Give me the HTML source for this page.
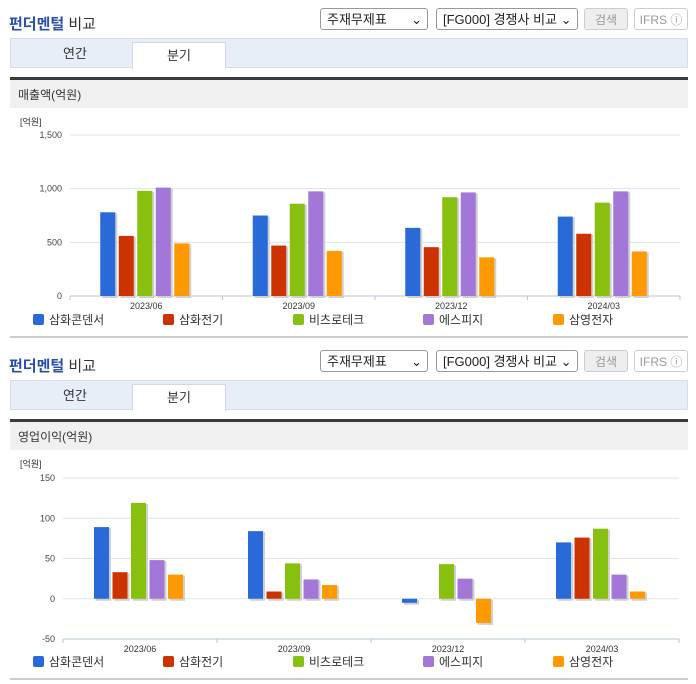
<!DOCTYPE html>
<html><head><meta charset="utf-8"><style>
body{margin:0;width:696px;height:684px;background:#fff;font-family:"Liberation Sans","Noto Sans CJK KR",sans-serif;position:relative;overflow:hidden}
.abs{position:absolute}
.title{font-size:15px;font-weight:bold;color:#2a4fa8}
.title span{color:#333;font-weight:normal}
.sel{border:1px solid #999;border-radius:3px;height:22px;font-size:13px;color:#222;line-height:22px;padding-left:6px;box-sizing:border-box;background:#fff}
.btn{border:1px solid #ccc;border-radius:3px;height:22px;font-size:12px;color:#999;line-height:22px;text-align:center;box-sizing:border-box;background:#eee}
.tabs{left:10px;width:678px;height:30px;background:#e8eef7;border:1px solid #d5dde8;box-sizing:border-box}
.tab{position:absolute;top:0;height:29px;line-height:29px;text-align:center;font-size:13px;color:#333;width:92px}
.tab.on{background:#fff;border:1px solid #cfd8e3;border-bottom:none;left:121px;top:3px;height:26px;line-height:26px}
.sechead{left:10px;width:678px;height:31px;background:#f0f0f0;border-top:3px solid #3a3a3a;font-size:12px;color:#333;line-height:31px;padding-left:8px;box-sizing:border-box}
.bottom{left:10px;width:678px;height:2px;background:#ccc}
</style></head><body>
<div>
<div class="abs title" style="left:9px;top:13px">펀더멘털 <span>비교</span></div>
<div class="abs sel" style="left:320px;top:8px;width:108px">주재무제표 <span style="float:right;margin-right:5px">⌄</span></div>
<div class="abs sel" style="left:436px;top:8px;width:142px">[FG000] 경쟁사 비교 ⌄</div>
<div class="abs btn" style="left:584px;top:8px;width:44px">검색</div>
<div class="abs btn" style="left:634px;top:8px;width:54px;background:#fff">IFRS ⓘ</div>
<div class="abs tabs" style="top:38px">
<div class="tab" style="left:18px">연간</div>
<div class="tab on">분기</div></div>
<div class="abs sechead" style="top:77px">매출액(억원)</div>
<svg class="abs" style="left:0;top:110px" width="696" height="230" id="c1"></svg>
<div class="abs bottom" style="top:336px"></div>
</div>
<div>
<div class="abs title" style="left:9px;top:355px">펀더멘털 <span>비교</span></div>
<div class="abs sel" style="left:320px;top:350px;width:108px">주재무제표 <span style="float:right;margin-right:5px">⌄</span></div>
<div class="abs sel" style="left:436px;top:350px;width:142px">[FG000] 경쟁사 비교 ⌄</div>
<div class="abs btn" style="left:584px;top:350px;width:44px">검색</div>
<div class="abs btn" style="left:634px;top:350px;width:54px;background:#fff">IFRS ⓘ</div>
<div class="abs tabs" style="top:380px">
<div class="tab" style="left:18px">연간</div>
<div class="tab on">분기</div></div>
<div class="abs sechead" style="top:419px">영업이익(억원)</div>
<svg class="abs" style="left:0;top:452px" width="696" height="230" id="c2"></svg>
<div class="abs bottom" style="top:678px"></div>
</div>
<script>
const categories=["2023/06","2023/09","2023/12","2024/03"];
const seriesNames=["삼화콘덴서","삼화전기","비츠로테크","에스피지","삼영전자"];
const colors=["#2a6ad8","#cc3300","#88c010","#a277d8","#ff9900"];
const sales1=[780,750,635,740];
const sales2=[560,470,455,580];
const sales3=[980,860,920,870];
const sales4=[1010,975,965,975];
const sales5=[490,420,360,415];
const op1=[89,84,-5,70];
const op2=[33,9,0,76];
const op3=[119,44,43,87];
const op4=[48,24,25,30];
const op5=[30,17,-30,9];
const salesTicks=[0,500,1000,1500];
const salesTickLabels=["0","500","1,000","1,500"];
const opTicks=[-50,0,50,100,150];
const opTickLabels=["-50","0","50","100","150"];
const NS="http://www.w3.org/2000/svg";
function mk(svg,t,a,txt){const e=document.createElementNS(NS,t);for(const k in a)e.setAttribute(k,a[k]);if(txt!=null)e.textContent=txt;svg.appendChild(e);return e;}
function draw(id,series,ticks,labels,x0,x1,yTopPx,yBotPx,min,max,unitY,legY){
 const svg=document.getElementById(id);
 const y=v=>yBotPx-(v-min)/(max-min)*(yBotPx-yTopPx);
 const step=(x1-x0)/categories.length;
 let t=mk(svg,'text',{x:20,y:unitY,'font-size':9,fill:'#333'},'[억원]');
 
 ticks.forEach((v,i)=>{
  let l=mk(svg,'line',{x1:x0,x2:x1,y1:y(v),y2:y(v),stroke:v===min?'#b8c4d4':'#dde2e8'});
  
  let tx=mk(svg,'text',{x:x0-8,y:y(v)+3,'font-size':9,fill:'#444','text-anchor':'end'},labels[i]);
  
 });
 for(let i=0;i<=categories.length;i++){mk(svg,'line',{x1:x0+i*step,x2:x0+i*step,y1:yBotPx,y2:yBotPx+4,stroke:'#b8c4d4'});}
 categories.forEach((c,ci)=>{
  const cx=x0+step*(ci+0.5);
  let tx=mk(svg,'text',{x:cx,y:yBotPx+13,'font-size':9,fill:'#333','text-anchor':'middle'},c);
  
  series.forEach((s,si)=>{
   const v=s[ci];if(v===0)return;
   const bx=cx-46+si*18.5, y0=y(0), yv=y(v);
   const top=Math.min(y0,yv),h=Math.abs(y0-yv);
   mk(svg,'rect',{x:bx+2,y:top+1,width:15,height:h+1,fill:'#d0d0d0'});
   let r=mk(svg,'rect',{x:bx,y:top,width:15,height:h,fill:colors[si]});
   
  });
 });
 seriesNames.forEach((n,i)=>{
  const lx=33+i*130;
  let r=mk(svg,'rect',{x:lx,y:legY-6,width:11,height:11,rx:2,fill:colors[i]});
  
  let tx=mk(svg,'text',{x:lx+16,y:legY+4,'font-size':12,fill:'#333'},n);
  
 });
}
draw('c1',[sales1,sales2,sales3,sales4,sales5],salesTicks,salesTickLabels,70,680,25,186,0,1500,15,210);
draw('c2',[op1,op2,op3,op4,op5],opTicks,opTickLabels,63,679,26,187,-50,150,15,210);
</script>
</body></html>
